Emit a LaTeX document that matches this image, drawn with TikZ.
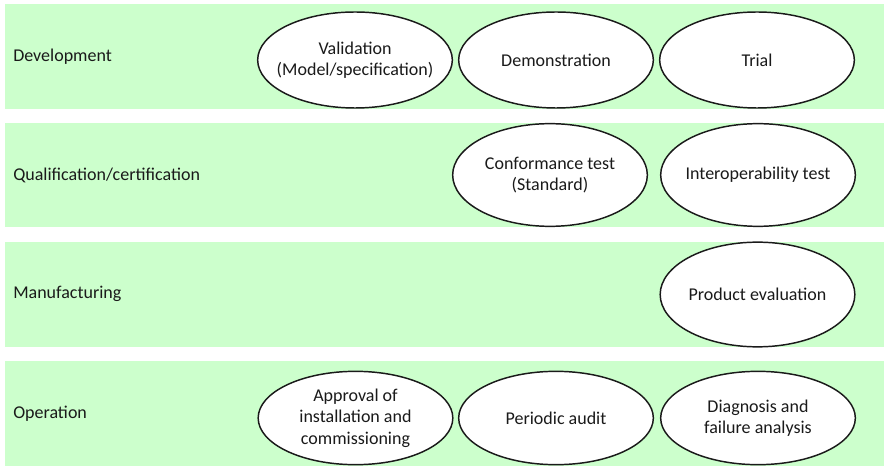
\documentclass[tikz,border=0pt]{standalone}
\usepackage{fontspec}
\setmainfont{Carlito}
\usepackage{xcolor}
\usepackage{tikz}
\usetikzlibrary{shapes.geometric}
\definecolor{lanegreen}{HTML}{CCFFCC}
\definecolor{inkdark}{HTML}{1A1A1A}

\begin{document}
\begin{tikzpicture}[
  x=0.75pt, y=-0.75pt,
  lane/.style={rectangle, fill=lanegreen, draw=none, anchor=west,
               text width=647.25pt, inner xsep=6pt, inner ysep=0pt,
               minimum height=78.5pt, align=left, text=inkdark,
               font=\fontsize{13.5}{16}\selectfont},
  activity/.style={ellipse, draw=inkdark, line width=1.1pt, fill=white,
                   minimum width=146pt, minimum height=74pt,
                   inner xsep=-18pt, inner ysep=0pt,
                   align=center, text=inkdark,
                   font=\fontsize{13.5}{16}\selectfont},
]
  \useasboundingbox (0,0) rectangle (884,466);

  % lanes
  \node[lane] (dev)  at (5,56.35)  {Development};
  \node[lane] (qual) at (5,175)    {Qualification/certification};
  \node[lane] (manu) at (5,294.2)  {Manufacturing};
  \node[lane] (oper) at (5,413.35) {Operation};

  % development
  \node[activity, minimum height=72pt] (valid) at (355,60) {Validation\\(Model/specification)};
  \node[activity, minimum height=72pt] (demo)  at (556,60) {Demonstration};
  \node[activity, minimum height=72pt] (trial) at (757,60) {Trial};

  % qualification/certification
  \node[activity, minimum height=77pt] (conf)  at (550,175) {Conformance test\\(Standard)};
  \node[activity, minimum height=77pt] (inter) at (758,175) {Interoperability test};

  % manufacturing
  \node[activity, minimum height=78.5pt] (prod) at (757.5,294.5) {Product evaluation};

  % operation
  \node[activity, minimum height=70pt] (appr)  at (355.5,418) {Approval of\\installation and\\commissioning};
  \node[activity, minimum height=70pt] (audit) at (556,418)   {Periodic audit};
  \node[activity, minimum height=70pt] (diag)  at (758,418)   {Diagnosis and\\failure analysis};
\end{tikzpicture}
\end{document}
